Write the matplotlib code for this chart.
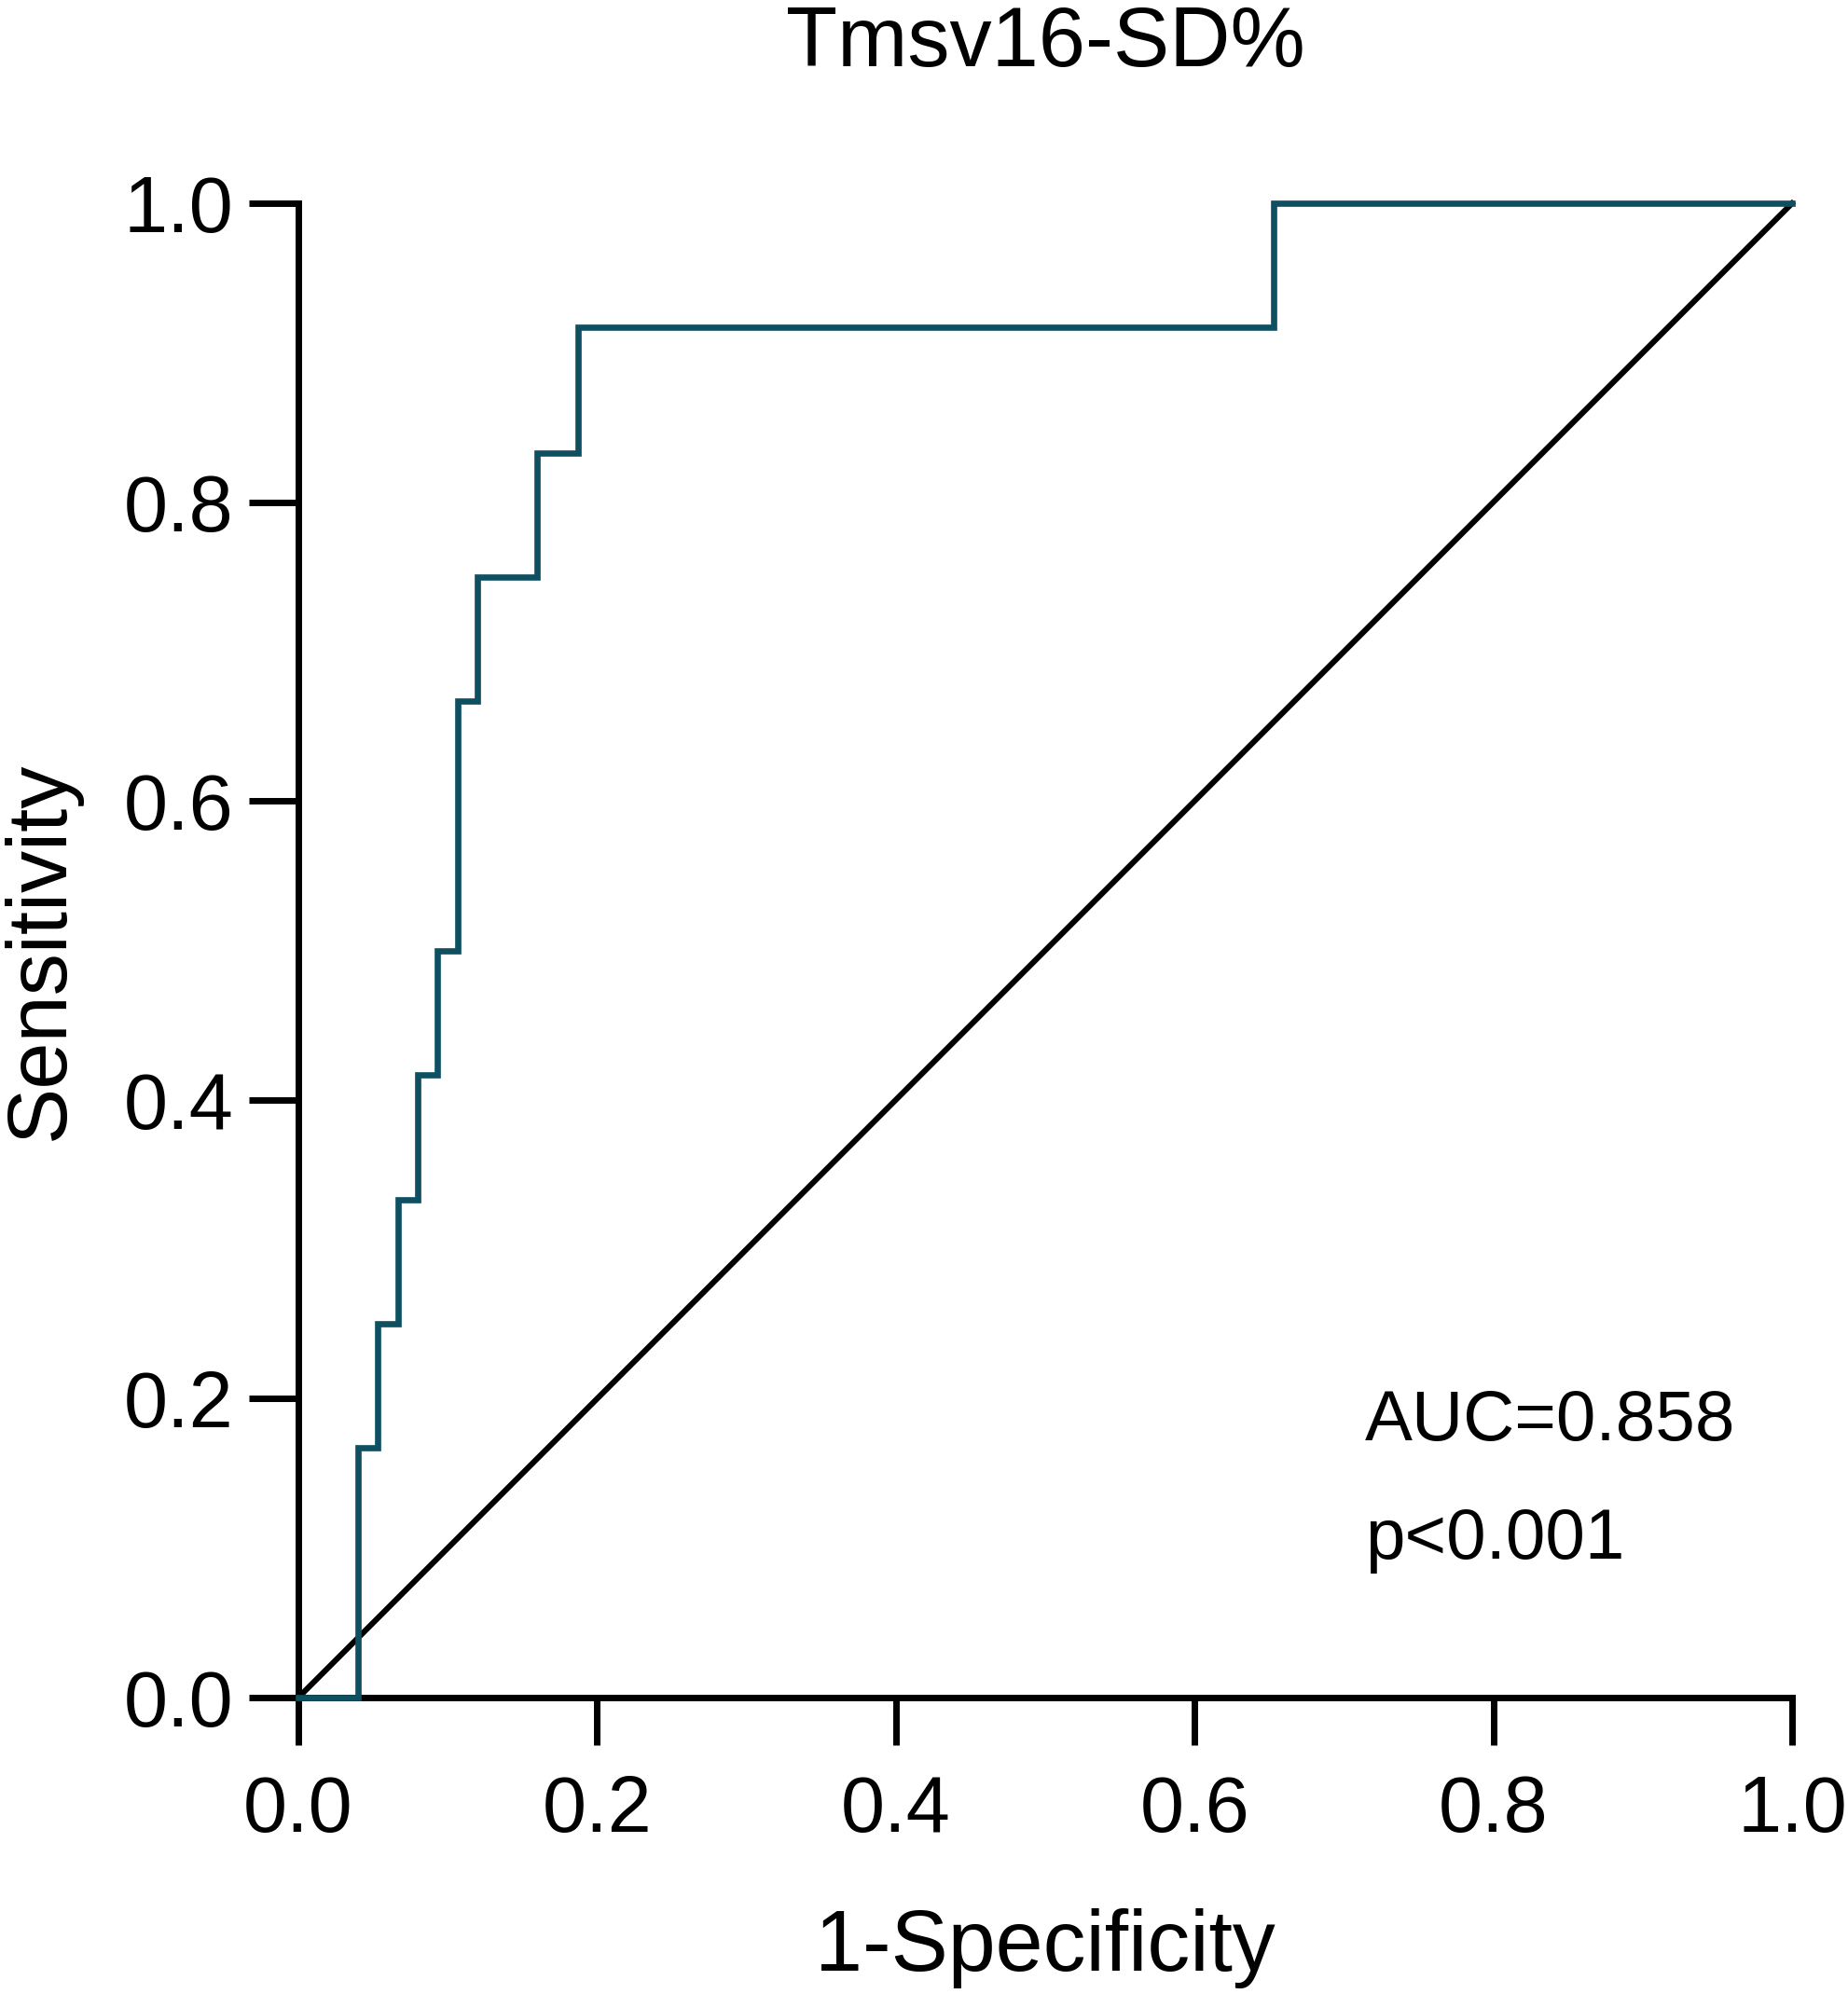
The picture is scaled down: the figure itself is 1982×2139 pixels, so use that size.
import matplotlib
matplotlib.use("Agg")
import matplotlib.pyplot as plt

plt.rcParams['font.family'] = ['Liberation Sans', 'DejaVu Sans']

# ROC points (step curve)
fpr = [0.0, 0.040, 0.053, 0.067, 0.080, 0.093, 0.107, 0.120, 0.160, 0.187, 0.653, 1.0]
tpr = [0.0, 0.167, 0.250, 0.333, 0.417, 0.500, 0.667, 0.750, 0.833, 0.917, 1.0, 1.0]
ref_x = [0.0, 1.0]
ref_y = [0.0, 1.0]
ticks = [0.0, 0.2, 0.4, 0.6, 0.8, 1.0]
tick_labels = ['0.0', '0.2', '0.4', '0.6', '0.8', '1.0']
auc_text = 'AUC=0.858'
p_text = 'p<0.001'

fig = plt.figure(figsize=(19.83, 21.39), dpi=100)
ax = fig.add_axes([0.1614, 0.1487, 0.9692 - 0.1614, 0.898 - 0.1487])

ax.plot(fpr, tpr, drawstyle='steps-post', color='#0e5062', lw=4.8,
        clip_on=False, zorder=3, solid_joinstyle='miter')
ax.plot(ref_x, ref_y, color='black', lw=4.4, clip_on=False, zorder=2)

ax.set_xlim(0, 1)
ax.set_ylim(0, 1)
ax.set_xticks(ticks)
ax.set_xticklabels(tick_labels)
ax.set_yticks(ticks)
ax.set_yticklabels(tick_labels)

for s in ['top', 'right']:
    ax.spines[s].set_visible(False)
for s in ['left', 'bottom']:
    ax.spines[s].set_linewidth(5)
    ax.spines[s].set_capstyle('projecting')

ax.tick_params(axis='x', length=37, width=5, labelsize=61, pad=22)
ax.tick_params(axis='y', length=38, width=5, labelsize=61, pad=12)

ax.set_title('Tmsv16-SD%', fontsize=65, pad=106)
ax.set_xlabel('1-Specificity', fontsize=66, labelpad=46)
ax.set_ylabel('Sensitivity', fontsize=65, labelpad=33)

ax.text(0.714, 0.172, auc_text, fontsize=55, va='baseline', ha='left')
ax.text(0.714, 0.093, p_text, fontsize=55, va='baseline', ha='left')

fig.savefig('out.png', dpi=100, facecolor='white')
